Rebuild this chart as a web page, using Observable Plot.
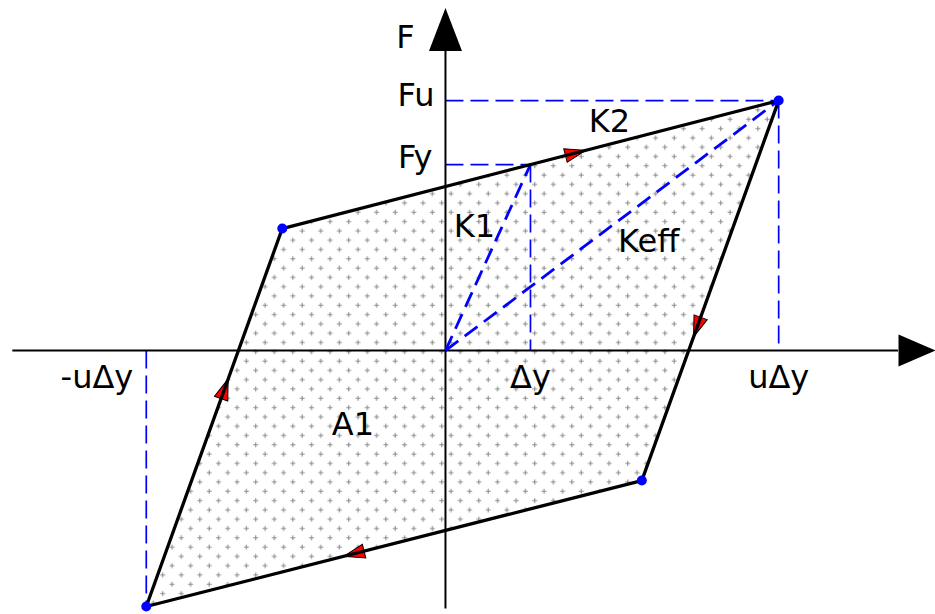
<!DOCTYPE html>
<html><head><meta charset="utf-8">
<script src="https://cdn.jsdelivr.net/npm/d3@7"></script>
<script src="https://cdn.jsdelivr.net/npm/@observablehq/plot@0.6"></script>
<style>body{margin:0;background:#fff} svg{display:block}</style>
</head><body><div id="chart"></div>
<script>
// ---- data (x in units of Δy, y in units of Fy) ----
const dY = 1.0;        // Δy
const uDY = 3.92;      // uΔy
const negUDY = -3.52;  // -uΔy
const Fy = 1.0;
const Fu = 1.344;
const loopX = [-3.52, -1.92, 3.92, 2.31];
const loopY = [-1.376, 0.656, 1.344, -0.699];
const arrowAt = [0.575, 0.59, 0.595, 0.58];   // fraction along each loop edge
const xDomain = [-5.235, 5.765];
const yDomain = [-1.419, 1.882];
const axisXExtent = [-5.09, 5.33];
const axisYExtent = [-1.39, 1.61];

const W = 935, H = 614;
const loop = loopX.map((x, i) => ({x, y: loopY[i]}));
const sx = W / (xDomain[1] - xDomain[0]), sy = H / (yDomain[1] - yDomain[0]);
const arrows = loop.map((p, i) => {
  const q = loop[(i + 1) % 4], t = arrowAt[i];
  return {x: p.x + t * (q.x - p.x), y: p.y + t * (q.y - p.y),
          angle: Math.atan2((q.x - p.x) * sx, (q.y - p.y) * sy) * 180 / Math.PI};
});
const guides = [
  {x1: 0, y1: Fu, x2: uDY, y2: Fu},
  {x1: 0, y1: Fy, x2: dY, y2: Fy},
  {x1: dY, y1: Fy, x2: dY, y2: 0},
  {x1: uDY, y1: Fu, x2: uDY, y2: 0},
  {x1: negUDY, y1: 0, x2: negUDY, y2: loopY[0]}
];
const secants = [
  {x1: 0, y1: 0, x2: dY, y2: Fy},
  {x1: 0, y1: 0, x2: uDY, y2: Fu}
];

const redArrow = {draw(c) { c.moveTo(0, -11); c.lineTo(7, 10); c.lineTo(-7, 10); c.closePath(); }};
const axisHead = (L, w) => ({draw(c) { c.moveTo(0, -L); c.lineTo(w / 2, 0); c.lineTo(-w / 2, 0); c.closePath(); }});

const font = {fontFamily: "DejaVu Sans", fontSize: 32, fill: "black"};

const svg = Plot.plot({
  width: W, height: H,
  margin: 0,
  x: {domain: xDomain, axis: null},
  y: {domain: yDomain, axis: null},
  style: {fontFamily: "DejaVu Sans", background: "white"},
  marks: [
    Plot.line(loop, {x: "x", y: "y", curve: "linear-closed", fill: "url(#plusPat)", stroke: "none"}),
    Plot.link(guides, {x1: "x1", y1: "y1", x2: "x2", y2: "y2", stroke: "#0000ff", strokeWidth: 1.7, strokeDasharray: "18,7"}),
    Plot.ruleY([0], {x1: axisXExtent[0], x2: axisXExtent[1], stroke: "black", strokeWidth: 2}),
    Plot.ruleX([0], {y1: axisYExtent[0], y2: axisYExtent[1], stroke: "black", strokeWidth: 2}),
    Plot.link(secants, {x1: "x1", y1: "y1", x2: "x2", y2: "y2", stroke: "#0000ff", strokeWidth: 2.8, strokeDasharray: "16,8"}),
    Plot.dot(arrows, {x: "x", y: "y", rotate: "angle", symbol: redArrow, fill: "#ff0000", stroke: "black", strokeWidth: 1}),
    Plot.line(loop, {x: "x", y: "y", curve: "linear-closed", stroke: "black", strokeWidth: 3.3, strokeLinejoin: "round"}),
    Plot.dot(loop, {x: "x", y: "y", r: 5, fill: "#0000ff", stroke: "none"}),
    Plot.dot([{x: axisXExtent[1], y: 0}], {x: "x", y: "y", rotate: 90, symbol: axisHead(37, 32), fill: "black", stroke: "none"}),
    Plot.dot([{x: 0, y: axisYExtent[1]}], {x: "x", y: "y", symbol: axisHead(43, 33), fill: "black", stroke: "none"}),
    Plot.text(["F"], {x: 0, y: axisYExtent[1], dx: -40, dy: -13, ...font}),
    Plot.text(["Fu"], {x: 0, y: Fu, dx: -11, dy: -4.5, textAnchor: "end", ...font}),
    Plot.text(["Fy"], {x: 0, y: Fy, dx: -13, dy: -6.5, textAnchor: "end", ...font}),
    Plot.text(["Δy"], {x: dY, y: 0, dy: 27, ...font}),
    Plot.text(["uΔy"], {x: uDY, y: 0, dy: 27.5, ...font}),
    Plot.text(["-uΔy"], {x: negUDY, y: 0, dx: -13, dy: 27.5, textAnchor: "end", ...font}),
    Plot.text(["K2"], {x: 1.93, y: 1.228, ...font}),
    Plot.text(["K1"], {x: 0.341, y: 0.663, ...font}),
    Plot.text(["Keff"], {x: 2.39, y: 0.583, ...font}),
    Plot.text(["A1"], {x: -1.088, y: -0.4, ...font})
  ]
});
d3.select(svg).insert("defs", ":first-child").html(
  `<pattern id="plusPat" patternUnits="userSpaceOnUse" x="8.75" y="11.85" width="18.6" height="18.6">
     <path d="M2.15 4.65h5M4.65 2.15v5M11.45 13.95h5M13.95 11.45v5" stroke="#8a8a8a" stroke-width="1.1" fill="none"/>
   </pattern>`);
document.getElementById("chart").appendChild(svg);
</script>
</body></html>
